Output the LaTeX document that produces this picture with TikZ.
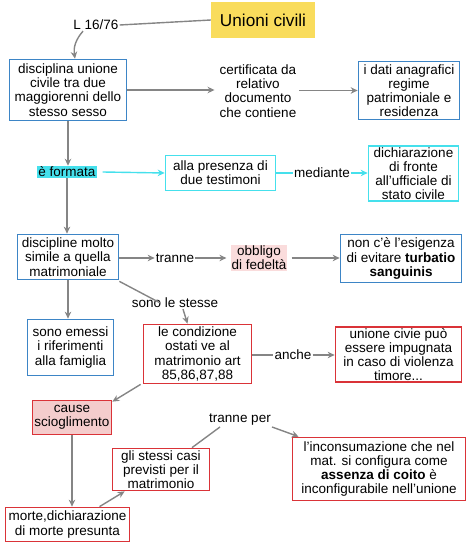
\documentclass[tikz,border=0pt]{standalone}
\usepackage{fontspec}
\setmainfont{Liberation Sans}
\usetikzlibrary{arrows.meta,positioning}
\definecolor{blu}{HTML}{3D85C6}
\definecolor{ciano}{HTML}{45E0EC}
\definecolor{rosso}{HTML}{DA3338}
\definecolor{giallo}{HTML}{F9DC5C}
\definecolor{rosa}{HTML}{F4CCCC}
\definecolor{rosina}{HTML}{FADCDC}
\definecolor{grigio}{HTML}{858585}

\begin{document}
\begin{tikzpicture}[x=1pt,y=-1pt,
  font=\fontsize{13.5}{14.2}\selectfont,
  box/.style={draw,line width=1.7pt,align=center,inner sep=1pt,fill=white},
  bl/.style={box,draw=blu},
  cy/.style={box,draw=ciano},
  rd/.style={box,draw=rosso},
  lbl/.style={align=center,inner sep=1pt},
  ln/.style={draw=grigio,line width=1.4pt},
  arr/.style={ln,-{Stealth[length=7pt,width=6.5pt]}}]
\useasboundingbox (0,0) rectangle (474,556);
% titolo
\node[fill=giallo,minimum width=104,minimum height=36,font=\fontsize{17.2}{19}\selectfont] (uc) at (263,20) {Unioni civili};
\node[lbl] (law) at (96,25) {L 16/76};
% prima riga
\node[bl,minimum width=117,minimum height=61] (disc) at (68,90) {disciplina unione\\civile tra due\\maggiorenni dello\\stesso sesso};
\node[lbl] (cert) at (258,91) {certificata da\\relativo\\documento\\che contiene};
\node[bl,minimum width=101,minimum height=58] (dati) at (409,90.5) {i dati anagrafici\\regime\\patrimoniale e\\residenza};
% formazione
\node[fill=ciano,inner sep=1pt] (form) at (67,172) {è formata};
\node[cy,minimum width=110,minimum height=35] (pres) at (220.5,173) {alla presenza di\\due testimoni};
\node[lbl] (med) at (322,173) {mediante};
\node[cy,minimum width=90,minimum height=54] (dich) at (413.5,173.5) {dichiarazione\\di fronte\\all'ufficiale di\\stato civile};
% disciplina
\node[bl,minimum width=101,minimum height=45] (simile) at (68,257) {discipline molto\\simile a quella\\matrimoniale};
\node[lbl] (tr) at (175,258) {tranne};
\node[fill=rosina,inner sep=1pt,align=center] (obb) at (259,258) {obbligo\\di fedeltà};
\node[bl,minimum width=121,minimum height=48] (turb) at (401,258.5) {non c'è l'esigenza\\di evitare \textbf{turbatio}\\\textbf{sanguinis}};
\node[bl,minimum width=86,minimum height=56] (emessi) at (70.5,347.5) {sono emessi\\i riferimenti\\alla famiglia};
\node[lbl] (ste) at (175,303) {sono le stesse};
\node[rd,minimum width=108,minimum height=59] (cond) at (197.5,354) {le condizione\\ostati ve al\\matrimonio art\\85,86,87,88};
\node[lbl] (anc) at (293,355) {anche};
\node[rd,minimum width=126,minimum height=54] (imp) at (398.5,354.5) {unione civie può\\essere impugnata\\in caso di violenza\\timore...};
% scioglimento
\node[rd,fill=rosa,minimum width=79,minimum height=34] (caus) at (72,417.5) {cause\\scioglimento};
\node[rd,minimum width=124,minimum height=34] (morte) at (67.5,524.5) {morte,dichiarazione\\di morte presunta};
\node[rd,minimum width=97,minimum height=42] (casi) at (161,469.5) {gli stessi casi\\previsti per il\\matrimonio};
\node[lbl] (trp) at (240,420) {tranne per};
\node[rd,minimum width=173,minimum height=63] (inc) at (379,469) {l'inconsumazione che nel\\mat. si configura come\\\textbf{assenza di coito} è\\inconfigurabile nell'unione};
% collegamenti
\draw[ln] (uc.west) -- (law.east);
\draw[arr] ([xshift=-13pt]law.south) to[bend right=25] ([xshift=7pt]disc.north);
\draw[arr] (disc.east) -- ([xshift=-4pt]cert.west |- disc.east);
\draw[arr] ([xshift=2pt]cert.east |- dati.west) -- (dati.west);
\draw[arr] (disc.south) -- (disc.south |- form.north);
\draw[ln,draw=ciano,-{Stealth[length=7pt,width=6.5pt]}] ([xshift=6pt]form.east) -- (pres.west);
\draw[ln,draw=ciano] (pres.east) -- (med.west);
\draw[ln,draw=ciano,-{Stealth[length=7pt,width=6.5pt]}] (med.east) -- (dich.west |- med.east);
\draw[arr] (form.south) -- (form.south |- simile.north);
\draw[arr] (simile.east |- tr.west) -- (tr.west);
\draw[arr] (tr.east) -- ([xshift=-4pt]obb.west);
\draw[arr] ([xshift=4pt]obb.east) -- (turb.west |- obb.east);
\draw[arr] (simile.south) -- (simile.south |- emessi.north);
\draw[ln] ([yshift=-1pt]simile.south east) -- ([xshift=-15pt,yshift=-6pt]ste.north);
\draw[arr] ([xshift=8pt]ste.south) -- ([xshift=-10pt]cond.north);
\draw[ln] (cond.east |- anc.west) -- (anc.west);
\draw[arr] (anc.east) -- (imp.west |- anc.east);
\draw[arr] ([xshift=-2pt]cond.south west) -- ([yshift=-2pt]caus.north east);
\draw[arr] (caus.south) -- (caus.south |- morte.north);
\draw[arr] ([xshift=32pt]morte.north) -- ([xshift=13pt]casi.south west);
\draw[ln] ([xshift=31pt]casi.north) -- ([xshift=-20pt]trp.south);
\draw[arr] (trp.south east) -- ([xshift=7pt]inc.north west);
\end{tikzpicture}
\end{document}
